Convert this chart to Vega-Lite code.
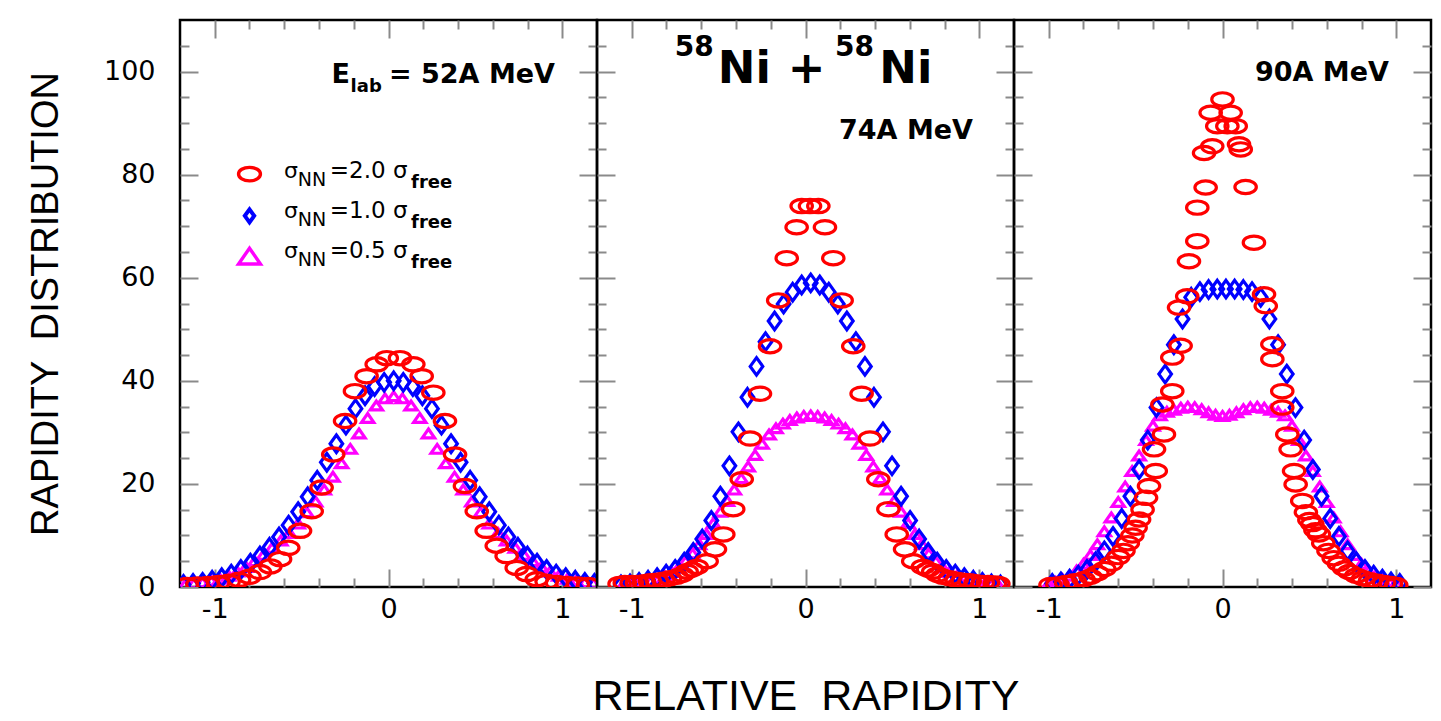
{
  "$schema": "https://vega.github.io/schema/vega-lite/v6.json",
  "background": "white",
  "padding": {"left": 26, "top": 17, "right": 0, "bottom": 0},
  "config": {
    "view": {"stroke": "black", "strokeWidth": 2.5},
    "axis": {"domain": false, "grid": false, "tickColor": "#8a8a8a", "tickWidth": 2, "labelFont": "DejaVu Sans", "labelFontSize": 27, "labelColor": "black", "labelOverlap": false, "labelFlush": false, "titleFont": "Liberation Sans", "titleFontWeight": "normal", "titleColor": "black"}
  },
  "datasets": {
    "pts": [
      {"p":1,"s":"0.5","x":-1.17,"y":0.5},{"p":1,"s":"0.5","x":-1.12,"y":0.7},{"p":1,"s":"0.5","x":-1.07,"y":0.9},{"p":1,"s":"0.5","x":-1.02,"y":1.2},{"p":1,"s":"0.5","x":-0.97,"y":1.6},{"p":1,"s":"0.5","x":-0.92,"y":2.2},{"p":1,"s":"0.5","x":-0.87,"y":3.0},{"p":1,"s":"0.5","x":-0.82,"y":3.9},{"p":1,"s":"0.5","x":-0.77,"y":5.0},{"p":1,"s":"0.5","x":-0.72,"y":6.2},{"p":1,"s":"0.5","x":-0.67,"y":7.6},{"p":1,"s":"0.5","x":-0.62,"y":9.0},{"p":1,"s":"0.5","x":-0.57,"y":10.5},{"p":1,"s":"0.5","x":-0.52,"y":12.3},{"p":1,"s":"0.5","x":-0.47,"y":14.5},{"p":1,"s":"0.5","x":-0.42,"y":16.6},{"p":1,"s":"0.5","x":-0.37,"y":18.9},{"p":1,"s":"0.5","x":-0.32,"y":21.4},{"p":1,"s":"0.5","x":-0.27,"y":24.0},{"p":1,"s":"0.5","x":-0.22,"y":26.8},{"p":1,"s":"0.5","x":-0.17,"y":29.8},{"p":1,"s":"0.5","x":-0.12,"y":32.8},{"p":1,"s":"0.5","x":-0.07,"y":35.2},{"p":1,"s":"0.5","x":-0.02,"y":36.6},{"p":1,"s":"0.5","x":0.03,"y":37.0},{"p":1,"s":"0.5","x":0.08,"y":36.6},{"p":1,"s":"0.5","x":0.13,"y":35.2},{"p":1,"s":"0.5","x":0.18,"y":32.8},{"p":1,"s":"0.5","x":0.23,"y":29.8},{"p":1,"s":"0.5","x":0.28,"y":26.8},{"p":1,"s":"0.5","x":0.33,"y":24.0},{"p":1,"s":"0.5","x":0.38,"y":21.4},{"p":1,"s":"0.5","x":0.43,"y":18.9},{"p":1,"s":"0.5","x":0.48,"y":16.6},{"p":1,"s":"0.5","x":0.53,"y":14.5},{"p":1,"s":"0.5","x":0.58,"y":12.3},{"p":1,"s":"0.5","x":0.63,"y":10.5},{"p":1,"s":"0.5","x":0.68,"y":9.0},{"p":1,"s":"0.5","x":0.73,"y":7.6},{"p":1,"s":"0.5","x":0.78,"y":6.2},{"p":1,"s":"0.5","x":0.83,"y":5.0},{"p":1,"s":"0.5","x":0.88,"y":3.9},{"p":1,"s":"0.5","x":0.93,"y":3.0},{"p":1,"s":"0.5","x":0.98,"y":2.2},{"p":1,"s":"0.5","x":1.03,"y":1.6},{"p":1,"s":"0.5","x":1.08,"y":1.2},{"p":1,"s":"0.5","x":1.13,"y":0.9},{"p":1,"s":"0.5","x":1.18,"y":0.7},
      {"p":1,"s":"1.0","x":-1.18,"y":0.5},{"p":1,"s":"1.0","x":-1.125,"y":0.7},{"p":1,"s":"1.0","x":-1.07,"y":0.9},{"p":1,"s":"1.0","x":-1.015,"y":1.3},{"p":1,"s":"1.0","x":-0.96,"y":1.8},{"p":1,"s":"1.0","x":-0.905,"y":2.5},{"p":1,"s":"1.0","x":-0.85,"y":3.4},{"p":1,"s":"1.0","x":-0.795,"y":4.6},{"p":1,"s":"1.0","x":-0.74,"y":6.0},{"p":1,"s":"1.0","x":-0.685,"y":7.7},{"p":1,"s":"1.0","x":-0.63,"y":9.7},{"p":1,"s":"1.0","x":-0.575,"y":12.0},{"p":1,"s":"1.0","x":-0.52,"y":14.6},{"p":1,"s":"1.0","x":-0.465,"y":17.5},{"p":1,"s":"1.0","x":-0.41,"y":20.7},{"p":1,"s":"1.0","x":-0.355,"y":24.2},{"p":1,"s":"1.0","x":-0.3,"y":27.8},{"p":1,"s":"1.0","x":-0.245,"y":31.4},{"p":1,"s":"1.0","x":-0.19,"y":34.6},{"p":1,"s":"1.0","x":-0.135,"y":37.1},{"p":1,"s":"1.0","x":-0.08,"y":38.9},{"p":1,"s":"1.0","x":-0.025,"y":39.7},{"p":1,"s":"1.0","x":0.03,"y":40.0},{"p":1,"s":"1.0","x":0.085,"y":39.7},{"p":1,"s":"1.0","x":0.14,"y":38.9},{"p":1,"s":"1.0","x":0.195,"y":37.1},{"p":1,"s":"1.0","x":0.25,"y":34.6},{"p":1,"s":"1.0","x":0.305,"y":31.4},{"p":1,"s":"1.0","x":0.36,"y":27.8},{"p":1,"s":"1.0","x":0.415,"y":24.2},{"p":1,"s":"1.0","x":0.47,"y":20.7},{"p":1,"s":"1.0","x":0.525,"y":17.5},{"p":1,"s":"1.0","x":0.58,"y":14.6},{"p":1,"s":"1.0","x":0.635,"y":12.0},{"p":1,"s":"1.0","x":0.69,"y":9.7},{"p":1,"s":"1.0","x":0.745,"y":7.7},{"p":1,"s":"1.0","x":0.8,"y":6.0},{"p":1,"s":"1.0","x":0.855,"y":4.6},{"p":1,"s":"1.0","x":0.91,"y":3.4},{"p":1,"s":"1.0","x":0.965,"y":2.5},{"p":1,"s":"1.0","x":1.02,"y":1.8},{"p":1,"s":"1.0","x":1.075,"y":1.3},{"p":1,"s":"1.0","x":1.13,"y":0.9},{"p":1,"s":"1.0","x":1.185,"y":0.7},
      {"p":1,"s":"2.0","x":-1.16,"y":0.4},{"p":1,"s":"2.0","x":-1.1,"y":0.5},{"p":1,"s":"2.0","x":-1.04,"y":0.6},{"p":1,"s":"2.0","x":-0.98,"y":0.8},{"p":1,"s":"2.0","x":-0.92,"y":1.0},{"p":1,"s":"2.0","x":-0.86,"y":1.4},{"p":1,"s":"2.0","x":-0.8,"y":2.0},{"p":1,"s":"2.0","x":-0.74,"y":2.9},{"p":1,"s":"2.0","x":-0.68,"y":4.0},{"p":1,"s":"2.0","x":-0.624,"y":5.4},{"p":1,"s":"2.0","x":-0.577,"y":7.6},{"p":1,"s":"2.0","x":-0.509,"y":10.9},{"p":1,"s":"2.0","x":-0.442,"y":14.7},{"p":1,"s":"2.0","x":-0.385,"y":19.3},{"p":1,"s":"2.0","x":-0.318,"y":25.7},{"p":1,"s":"2.0","x":-0.25,"y":32.2},{"p":1,"s":"2.0","x":-0.193,"y":38.0},{"p":1,"s":"2.0","x":-0.126,"y":40.9},{"p":1,"s":"2.0","x":-0.068,"y":43.2},{"p":1,"s":"2.0","x":-0.01,"y":44.4},{"p":1,"s":"2.0","x":0.066,"y":44.4},{"p":1,"s":"2.0","x":0.143,"y":43.2},{"p":1,"s":"2.0","x":0.191,"y":40.9},{"p":1,"s":"2.0","x":0.258,"y":37.7},{"p":1,"s":"2.0","x":0.325,"y":32.2},{"p":1,"s":"2.0","x":0.383,"y":25.7},{"p":1,"s":"2.0","x":0.44,"y":19.6},{"p":1,"s":"2.0","x":0.508,"y":14.7},{"p":1,"s":"2.0","x":0.565,"y":10.9},{"p":1,"s":"2.0","x":0.623,"y":8.0},{"p":1,"s":"2.0","x":0.68,"y":6.0},{"p":1,"s":"2.0","x":0.738,"y":3.7},{"p":1,"s":"2.0","x":0.795,"y":2.5},{"p":1,"s":"2.0","x":0.853,"y":1.5},{"p":1,"s":"2.0","x":0.91,"y":1.0},{"p":1,"s":"2.0","x":0.97,"y":0.8},{"p":1,"s":"2.0","x":1.03,"y":0.6},{"p":1,"s":"2.0","x":1.09,"y":0.5},{"p":1,"s":"2.0","x":1.15,"y":0.4},

      {"p":2,"s":"0.5","x":-1.05,"y":0.4},{"p":2,"s":"0.5","x":-1.01,"y":0.5},{"p":2,"s":"0.5","x":-0.97,"y":0.6},{"p":2,"s":"0.5","x":-0.93,"y":0.8},{"p":2,"s":"0.5","x":-0.89,"y":1.1},{"p":2,"s":"0.5","x":-0.85,"y":1.5},{"p":2,"s":"0.5","x":-0.81,"y":2.1},{"p":2,"s":"0.5","x":-0.77,"y":2.9},{"p":2,"s":"0.5","x":-0.73,"y":3.8},{"p":2,"s":"0.5","x":-0.69,"y":5.0},{"p":2,"s":"0.5","x":-0.65,"y":6.5},{"p":2,"s":"0.5","x":-0.61,"y":8.3},{"p":2,"s":"0.5","x":-0.57,"y":10.3},{"p":2,"s":"0.5","x":-0.53,"y":12.4},{"p":2,"s":"0.5","x":-0.49,"y":14.6},{"p":2,"s":"0.5","x":-0.45,"y":16.7},{"p":2,"s":"0.5","x":-0.41,"y":18.9},{"p":2,"s":"0.5","x":-0.37,"y":21.1},{"p":2,"s":"0.5","x":-0.33,"y":23.4},{"p":2,"s":"0.5","x":-0.29,"y":25.6},{"p":2,"s":"0.5","x":-0.25,"y":27.8},{"p":2,"s":"0.5","x":-0.21,"y":29.6},{"p":2,"s":"0.5","x":-0.17,"y":30.8},{"p":2,"s":"0.5","x":-0.13,"y":31.7},{"p":2,"s":"0.5","x":-0.09,"y":32.4},{"p":2,"s":"0.5","x":-0.05,"y":32.9},{"p":2,"s":"0.5","x":-0.01,"y":33.2},{"p":2,"s":"0.5","x":0.03,"y":33.3},{"p":2,"s":"0.5","x":0.07,"y":33.2},{"p":2,"s":"0.5","x":0.11,"y":32.9},{"p":2,"s":"0.5","x":0.15,"y":32.4},{"p":2,"s":"0.5","x":0.19,"y":31.7},{"p":2,"s":"0.5","x":0.23,"y":30.8},{"p":2,"s":"0.5","x":0.27,"y":29.6},{"p":2,"s":"0.5","x":0.31,"y":27.8},{"p":2,"s":"0.5","x":0.35,"y":25.6},{"p":2,"s":"0.5","x":0.39,"y":23.4},{"p":2,"s":"0.5","x":0.43,"y":21.1},{"p":2,"s":"0.5","x":0.47,"y":18.9},{"p":2,"s":"0.5","x":0.51,"y":16.7},{"p":2,"s":"0.5","x":0.55,"y":14.6},{"p":2,"s":"0.5","x":0.59,"y":12.4},{"p":2,"s":"0.5","x":0.63,"y":10.3},{"p":2,"s":"0.5","x":0.67,"y":8.3},{"p":2,"s":"0.5","x":0.71,"y":6.5},{"p":2,"s":"0.5","x":0.75,"y":5.0},{"p":2,"s":"0.5","x":0.79,"y":3.8},{"p":2,"s":"0.5","x":0.83,"y":2.9},{"p":2,"s":"0.5","x":0.87,"y":2.1},{"p":2,"s":"0.5","x":0.91,"y":1.5},{"p":2,"s":"0.5","x":0.95,"y":1.1},{"p":2,"s":"0.5","x":0.99,"y":0.8},{"p":2,"s":"0.5","x":1.03,"y":0.6},{"p":2,"s":"0.5","x":1.07,"y":0.5},{"p":2,"s":"0.5","x":1.11,"y":0.4},
      {"p":2,"s":"1.0","x":-1.062,"y":0.4},{"p":2,"s":"1.0","x":-1.01,"y":0.6},{"p":2,"s":"1.0","x":-0.958,"y":0.9},{"p":2,"s":"1.0","x":-0.906,"y":1.3},{"p":2,"s":"1.0","x":-0.854,"y":1.8},{"p":2,"s":"1.0","x":-0.802,"y":2.5},{"p":2,"s":"1.0","x":-0.75,"y":3.4},{"p":2,"s":"1.0","x":-0.698,"y":4.8},{"p":2,"s":"1.0","x":-0.646,"y":6.7},{"p":2,"s":"1.0","x":-0.594,"y":9.3},{"p":2,"s":"1.0","x":-0.542,"y":12.9},{"p":2,"s":"1.0","x":-0.49,"y":17.6},{"p":2,"s":"1.0","x":-0.438,"y":23.5},{"p":2,"s":"1.0","x":-0.386,"y":30.1},{"p":2,"s":"1.0","x":-0.334,"y":36.8},{"p":2,"s":"1.0","x":-0.282,"y":42.8},{"p":2,"s":"1.0","x":-0.23,"y":47.6},{"p":2,"s":"1.0","x":-0.178,"y":51.6},{"p":2,"s":"1.0","x":-0.126,"y":54.9},{"p":2,"s":"1.0","x":-0.074,"y":57.2},{"p":2,"s":"1.0","x":-0.022,"y":58.6},{"p":2,"s":"1.0","x":0.03,"y":59.0},{"p":2,"s":"1.0","x":0.082,"y":58.6},{"p":2,"s":"1.0","x":0.134,"y":57.2},{"p":2,"s":"1.0","x":0.186,"y":54.9},{"p":2,"s":"1.0","x":0.238,"y":51.6},{"p":2,"s":"1.0","x":0.29,"y":47.6},{"p":2,"s":"1.0","x":0.342,"y":42.8},{"p":2,"s":"1.0","x":0.394,"y":36.8},{"p":2,"s":"1.0","x":0.446,"y":30.1},{"p":2,"s":"1.0","x":0.498,"y":23.5},{"p":2,"s":"1.0","x":0.55,"y":17.6},{"p":2,"s":"1.0","x":0.602,"y":12.9},{"p":2,"s":"1.0","x":0.654,"y":9.3},{"p":2,"s":"1.0","x":0.706,"y":6.7},{"p":2,"s":"1.0","x":0.758,"y":4.8},{"p":2,"s":"1.0","x":0.81,"y":3.4},{"p":2,"s":"1.0","x":0.862,"y":2.5},{"p":2,"s":"1.0","x":0.914,"y":1.8},{"p":2,"s":"1.0","x":0.966,"y":1.3},{"p":2,"s":"1.0","x":1.018,"y":0.9},{"p":2,"s":"1.0","x":1.07,"y":0.6},{"p":2,"s":"1.0","x":1.122,"y":0.4},
      {"p":2,"s":"2.0","x":-1.07,"y":0.6},{"p":2,"s":"2.0","x":-1.04,"y":0.8},{"p":2,"s":"2.0","x":-1.0,"y":0.8},{"p":2,"s":"2.0","x":-0.97,"y":0.8},{"p":2,"s":"2.0","x":-0.93,"y":0.9},{"p":2,"s":"2.0","x":-0.895,"y":1.1},{"p":2,"s":"2.0","x":-0.855,"y":1.2},{"p":2,"s":"2.0","x":-0.818,"y":1.4},{"p":2,"s":"2.0","x":-0.78,"y":1.7},{"p":2,"s":"2.0","x":-0.741,"y":2.0},{"p":2,"s":"2.0","x":-0.71,"y":2.4},{"p":2,"s":"2.0","x":-0.684,"y":3.0},{"p":2,"s":"2.0","x":-0.655,"y":3.4},{"p":2,"s":"2.0","x":-0.626,"y":3.9},{"p":2,"s":"2.0","x":-0.569,"y":5.0},{"p":2,"s":"2.0","x":-0.521,"y":7.3},{"p":2,"s":"2.0","x":-0.473,"y":10.2},{"p":2,"s":"2.0","x":-0.416,"y":15.1},{"p":2,"s":"2.0","x":-0.367,"y":20.9},{"p":2,"s":"2.0","x":-0.319,"y":28.8},{"p":2,"s":"2.0","x":-0.262,"y":37.5},{"p":2,"s":"2.0","x":-0.204,"y":46.7},{"p":2,"s":"2.0","x":-0.157,"y":55.6},{"p":2,"s":"2.0","x":-0.108,"y":63.8},{"p":2,"s":"2.0","x":-0.051,"y":69.8},{"p":2,"s":"2.0","x":-0.022,"y":73.9},{"p":2,"s":"2.0","x":0.026,"y":73.9},{"p":2,"s":"2.0","x":0.074,"y":73.9},{"p":2,"s":"2.0","x":0.112,"y":69.8},{"p":2,"s":"2.0","x":0.16,"y":63.8},{"p":2,"s":"2.0","x":0.208,"y":55.6},{"p":2,"s":"2.0","x":0.275,"y":46.7},{"p":2,"s":"2.0","x":0.323,"y":37.5},{"p":2,"s":"2.0","x":0.371,"y":28.8},{"p":2,"s":"2.0","x":0.419,"y":20.9},{"p":2,"s":"2.0","x":0.477,"y":15.1},{"p":2,"s":"2.0","x":0.525,"y":10.2},{"p":2,"s":"2.0","x":0.573,"y":7.3},{"p":2,"s":"2.0","x":0.62,"y":5.0},{"p":2,"s":"2.0","x":0.676,"y":3.9},{"p":2,"s":"2.0","x":0.705,"y":3.4},{"p":2,"s":"2.0","x":0.735,"y":3.0},{"p":2,"s":"2.0","x":0.76,"y":2.4},{"p":2,"s":"2.0","x":0.79,"y":2.0},{"p":2,"s":"2.0","x":0.83,"y":1.7},{"p":2,"s":"2.0","x":0.87,"y":1.4},{"p":2,"s":"2.0","x":0.905,"y":1.2},{"p":2,"s":"2.0","x":0.945,"y":1.1},{"p":2,"s":"2.0","x":0.98,"y":0.9},{"p":2,"s":"2.0","x":1.02,"y":0.8},{"p":2,"s":"2.0","x":1.05,"y":0.8},{"p":2,"s":"2.0","x":1.09,"y":0.7},{"p":2,"s":"2.0","x":1.11,"y":0.6},

      {"p":3,"s":"0.5","x":-1.0,"y":0.7},{"p":3,"s":"0.5","x":-0.96,"y":1.0},{"p":3,"s":"0.5","x":-0.92,"y":1.5},{"p":3,"s":"0.5","x":-0.88,"y":2.2},{"p":3,"s":"0.5","x":-0.84,"y":3.2},{"p":3,"s":"0.5","x":-0.8,"y":4.5},{"p":3,"s":"0.5","x":-0.76,"y":6.2},{"p":3,"s":"0.5","x":-0.72,"y":8.3},{"p":3,"s":"0.5","x":-0.68,"y":10.8},{"p":3,"s":"0.5","x":-0.64,"y":13.5},{"p":3,"s":"0.5","x":-0.6,"y":16.5},{"p":3,"s":"0.5","x":-0.56,"y":19.5},{"p":3,"s":"0.5","x":-0.52,"y":22.5},{"p":3,"s":"0.5","x":-0.48,"y":25.5},{"p":3,"s":"0.5","x":-0.44,"y":28.5},{"p":3,"s":"0.5","x":-0.4,"y":31.3},{"p":3,"s":"0.5","x":-0.36,"y":33.3},{"p":3,"s":"0.5","x":-0.32,"y":34.0},{"p":3,"s":"0.5","x":-0.28,"y":34.4},{"p":3,"s":"0.5","x":-0.24,"y":34.8},{"p":3,"s":"0.5","x":-0.2,"y":35.0},{"p":3,"s":"0.5","x":-0.16,"y":34.9},{"p":3,"s":"0.5","x":-0.12,"y":34.5},{"p":3,"s":"0.5","x":-0.08,"y":33.9},{"p":3,"s":"0.5","x":-0.04,"y":33.4},{"p":3,"s":"0.5","x":0.0,"y":33.2},{"p":3,"s":"0.5","x":0.04,"y":33.4},{"p":3,"s":"0.5","x":0.08,"y":33.9},{"p":3,"s":"0.5","x":0.12,"y":34.5},{"p":3,"s":"0.5","x":0.16,"y":34.9},{"p":3,"s":"0.5","x":0.2,"y":35.0},{"p":3,"s":"0.5","x":0.24,"y":34.8},{"p":3,"s":"0.5","x":0.28,"y":34.4},{"p":3,"s":"0.5","x":0.32,"y":34.0},{"p":3,"s":"0.5","x":0.36,"y":33.3},{"p":3,"s":"0.5","x":0.4,"y":31.3},{"p":3,"s":"0.5","x":0.44,"y":28.5},{"p":3,"s":"0.5","x":0.48,"y":25.5},{"p":3,"s":"0.5","x":0.52,"y":22.5},{"p":3,"s":"0.5","x":0.56,"y":19.5},{"p":3,"s":"0.5","x":0.6,"y":16.5},{"p":3,"s":"0.5","x":0.64,"y":13.5},{"p":3,"s":"0.5","x":0.68,"y":10.8},{"p":3,"s":"0.5","x":0.72,"y":8.3},{"p":3,"s":"0.5","x":0.76,"y":6.2},{"p":3,"s":"0.5","x":0.8,"y":4.5},{"p":3,"s":"0.5","x":0.84,"y":3.2},{"p":3,"s":"0.5","x":0.88,"y":2.2},{"p":3,"s":"0.5","x":0.92,"y":1.5},{"p":3,"s":"0.5","x":0.96,"y":1.0},{"p":3,"s":"0.5","x":1.0,"y":0.7},
      {"p":3,"s":"1.0","x":-0.98,"y":0.7},{"p":3,"s":"1.0","x":-0.93,"y":1.0},{"p":3,"s":"1.0","x":-0.88,"y":1.5},{"p":3,"s":"1.0","x":-0.83,"y":2.3},{"p":3,"s":"1.0","x":-0.78,"y":3.4},{"p":3,"s":"1.0","x":-0.73,"y":4.9},{"p":3,"s":"1.0","x":-0.68,"y":7.0},{"p":3,"s":"1.0","x":-0.63,"y":9.8},{"p":3,"s":"1.0","x":-0.58,"y":13.3},{"p":3,"s":"1.0","x":-0.53,"y":17.6},{"p":3,"s":"1.0","x":-0.48,"y":22.8},{"p":3,"s":"1.0","x":-0.43,"y":28.5},{"p":3,"s":"1.0","x":-0.38,"y":34.8},{"p":3,"s":"1.0","x":-0.33,"y":41.3},{"p":3,"s":"1.0","x":-0.28,"y":47.0},{"p":3,"s":"1.0","x":-0.23,"y":52.0},{"p":3,"s":"1.0","x":-0.18,"y":56.2},{"p":3,"s":"1.0","x":-0.13,"y":57.3},{"p":3,"s":"1.0","x":-0.08,"y":57.7},{"p":3,"s":"1.0","x":-0.03,"y":57.8},{"p":3,"s":"1.0","x":0.02,"y":57.8},{"p":3,"s":"1.0","x":0.07,"y":57.8},{"p":3,"s":"1.0","x":0.12,"y":57.7},{"p":3,"s":"1.0","x":0.17,"y":57.3},{"p":3,"s":"1.0","x":0.22,"y":56.2},{"p":3,"s":"1.0","x":0.27,"y":52.0},{"p":3,"s":"1.0","x":0.32,"y":47.0},{"p":3,"s":"1.0","x":0.37,"y":41.3},{"p":3,"s":"1.0","x":0.42,"y":34.8},{"p":3,"s":"1.0","x":0.47,"y":28.5},{"p":3,"s":"1.0","x":0.52,"y":22.8},{"p":3,"s":"1.0","x":0.57,"y":17.6},{"p":3,"s":"1.0","x":0.62,"y":13.3},{"p":3,"s":"1.0","x":0.67,"y":9.8},{"p":3,"s":"1.0","x":0.72,"y":7.0},{"p":3,"s":"1.0","x":0.77,"y":4.9},{"p":3,"s":"1.0","x":0.82,"y":3.4},{"p":3,"s":"1.0","x":0.87,"y":2.3},{"p":3,"s":"1.0","x":0.92,"y":1.5},{"p":3,"s":"1.0","x":0.97,"y":1.0},{"p":3,"s":"1.0","x":1.02,"y":0.7},
      {"p":3,"s":"2.0","x":-0.99,"y":0.4},{"p":3,"s":"2.0","x":-0.95,"y":0.5},{"p":3,"s":"2.0","x":-0.9,"y":0.8},{"p":3,"s":"2.0","x":-0.85,"y":1.1},{"p":3,"s":"2.0","x":-0.8,"y":1.5},{"p":3,"s":"2.0","x":-0.76,"y":2.0},{"p":3,"s":"2.0","x":-0.72,"y":2.7},{"p":3,"s":"2.0","x":-0.68,"y":3.5},{"p":3,"s":"2.0","x":-0.64,"y":4.5},{"p":3,"s":"2.0","x":-0.6,"y":5.8},{"p":3,"s":"2.0","x":-0.57,"y":7.0},{"p":3,"s":"2.0","x":-0.545,"y":8.5},{"p":3,"s":"2.0","x":-0.519,"y":10.0},{"p":3,"s":"2.0","x":-0.5,"y":11.5},{"p":3,"s":"2.0","x":-0.48,"y":13.1},{"p":3,"s":"2.0","x":-0.46,"y":15.0},{"p":3,"s":"2.0","x":-0.44,"y":17.3},{"p":3,"s":"2.0","x":-0.423,"y":19.6},{"p":3,"s":"2.0","x":-0.384,"y":22.5},{"p":3,"s":"2.0","x":-0.394,"y":26.7},{"p":3,"s":"2.0","x":-0.337,"y":29.6},{"p":3,"s":"2.0","x":-0.346,"y":35.4},{"p":3,"s":"2.0","x":-0.289,"y":38.0},{"p":3,"s":"2.0","x":-0.289,"y":44.5},{"p":3,"s":"2.0","x":-0.241,"y":46.8},{"p":3,"s":"2.0","x":-0.25,"y":54.2},{"p":3,"s":"2.0","x":-0.203,"y":56.4},{"p":3,"s":"2.0","x":-0.193,"y":63.2},{"p":3,"s":"2.0","x":-0.145,"y":67.1},{"p":3,"s":"2.0","x":-0.145,"y":73.6},{"p":3,"s":"2.0","x":-0.097,"y":77.5},{"p":3,"s":"2.0","x":-0.106,"y":84.2},{"p":3,"s":"2.0","x":-0.059,"y":85.5},{"p":3,"s":"2.0","x":-0.068,"y":92.0},{"p":3,"s":"2.0","x":-0.03,"y":89.4},{"p":3,"s":"2.0","x":0.0,"y":94.6},{"p":3,"s":"2.0","x":0.028,"y":89.4},{"p":3,"s":"2.0","x":0.047,"y":92.0},{"p":3,"s":"2.0","x":0.076,"y":89.4},{"p":3,"s":"2.0","x":0.095,"y":85.9},{"p":3,"s":"2.0","x":0.105,"y":84.9},{"p":3,"s":"2.0","x":0.133,"y":77.6},{"p":3,"s":"2.0","x":0.181,"y":66.8},{"p":3,"s":"2.0","x":0.239,"y":56.8},{"p":3,"s":"2.0","x":0.249,"y":54.5},{"p":3,"s":"2.0","x":0.287,"y":47.1},{"p":3,"s":"2.0","x":0.287,"y":44.2},{"p":3,"s":"2.0","x":0.344,"y":38.0},{"p":3,"s":"2.0","x":0.344,"y":34.8},{"p":3,"s":"2.0","x":0.373,"y":29.6},{"p":3,"s":"2.0","x":0.392,"y":26.7},{"p":3,"s":"2.0","x":0.412,"y":22.5},{"p":3,"s":"2.0","x":0.421,"y":19.9},{"p":3,"s":"2.0","x":0.459,"y":16.7},{"p":3,"s":"2.0","x":0.48,"y":14.5},{"p":3,"s":"2.0","x":0.5,"y":13.0},{"p":3,"s":"2.0","x":0.517,"y":12.2},{"p":3,"s":"2.0","x":0.535,"y":11.0},{"p":3,"s":"2.0","x":0.555,"y":10.2},{"p":3,"s":"2.0","x":0.58,"y":8.5},{"p":3,"s":"2.0","x":0.61,"y":7.0},{"p":3,"s":"2.0","x":0.64,"y":5.6},{"p":3,"s":"2.0","x":0.67,"y":4.5},{"p":3,"s":"2.0","x":0.7,"y":3.6},{"p":3,"s":"2.0","x":0.73,"y":2.9},{"p":3,"s":"2.0","x":0.77,"y":2.2},{"p":3,"s":"2.0","x":0.81,"y":1.7},{"p":3,"s":"2.0","x":0.85,"y":1.3},{"p":3,"s":"2.0","x":0.89,"y":1.0},{"p":3,"s":"2.0","x":0.93,"y":0.8},{"p":3,"s":"2.0","x":0.97,"y":0.6},{"p":3,"s":"2.0","x":1.0,"y":0.4}
    ]
  },
  "spacing": 0,
  "bounds": "flush",
  "hconcat": [
    {
      "width": 417, "height": 567,
      "resolve": {"axis": {"x": "independent", "y": "independent"}},
      "layer": [
        {
          "data": {"name": "pts"},
          "transform": [{"filter": "datum.p == 1"}],
          "mark": {"type": "point", "filled": false, "strokeWidth": 3.2, "opacity": 1, "clip": true},
          "encoding": {
            "x": {"field": "x", "type": "quantitative", "scale": {"domain": [-1.2, 1.2], "nice": false, "zero": false},
              "axis": {"orient": "bottom", "values": [-1, -0.8, -0.6, -0.4, -0.2, 0, 0.2, 0.4, 0.6, 0.8, 1], "tickSize": {"condition": {"test": "abs(datum.value) < 0.01 || abs(abs(datum.value) - 1) < 0.01", "value": -18}, "value": -9}, "labelExpr": "abs(datum.value) < 0.01 ? '0' : datum.value < -0.99 ? '-1' : datum.value > 0.99 ? '1' : ''", "labelPadding": 27, "title": null}},
            "y": {"field": "y", "type": "quantitative", "scale": {"domain": [0, 110], "nice": false, "zero": false},
              "axis": {"orient": "left", "values": [0, 5, 10, 15, 20, 25, 30, 35, 40, 45, 50, 55, 60, 65, 70, 75, 80, 85, 90, 95, 100, 105], "tickSize": {"condition": {"test": "datum.value % 20 === 0", "value": -18}, "value": -9}, "labelExpr": "datum.value % 20 === 0 ? datum.label : ''", "labelPadding": 43, "title": "RAPIDITY \u00a0DISTRIBUTION", "titleFontSize": 38, "titlePadding": 38}},
            "shape": {"field": "s", "type": "nominal", "scale": {"domain": ["2.0", "1.0", "0.5"], "range": ["M -1 0 A 1 0.62 0 1 0 1 0 A 1 0.62 0 1 0 -1 0 Z", "M 0 -1 L 0.72 0 L 0 1 L -0.72 0 Z", "M 0 -0.72 L 1 0.72 L -1 0.72 Z"]}, "legend": null},
            "color": {"field": "s", "type": "nominal", "scale": {"domain": ["2.0", "1.0", "0.5"], "range": ["#ff0000", "#0000ff", "#ff00ff"]}, "legend": null},
            "size": {"field": "s", "type": "ordinal", "scale": {"domain": ["2.0", "1.0", "0.5"], "range": [460, 150, 300]}, "legend": null}
          }
        },
        {
          "data": {"values": [{}]},
          "mark": {"type": "point", "opacity": 0},
          "encoding": {
            "x": {"datum": 0, "type": "quantitative", "scale": {"domain": [-1.2, 1.2], "nice": false, "zero": false},
              "axis": {"orient": "top", "values": [-1, -0.8, -0.6, -0.4, -0.2, 0, 0.2, 0.4, 0.6, 0.8, 1], "tickSize": {"condition": {"test": "abs(datum.value) < 0.01 || abs(abs(datum.value) - 1) < 0.01", "value": -18}, "value": -9}, "labels": false, "title": null}},
            "y": {"datum": 0, "type": "quantitative", "scale": {"domain": [0, 110], "nice": false, "zero": false},
              "axis": {"orient": "right", "values": [0, 5, 10, 15, 20, 25, 30, 35, 40, 45, 50, 55, 60, 65, 70, 75, 80, 85, 90, 95, 100, 105], "tickSize": {"condition": {"test": "datum.value % 20 === 0", "value": -18}, "value": -9}, "labels": false, "title": null}}
          }
        },
        {"data": {"values": [{}]}, "mark": {"type": "text", "text": "E", "font": "DejaVu Sans", "fontWeight": "bold", "fontSize": 27, "align": "right", "baseline": "alphabetic", "color": "black"},
          "encoding": {"x": {"datum": -0.222, "type": "quantitative", "axis": null}, "y": {"datum": 97.8, "type": "quantitative", "axis": null}}},
        {"data": {"values": [{}]}, "mark": {"type": "text", "text": "lab", "font": "DejaVu Sans", "fontWeight": "bold", "fontSize": 18, "align": "left", "baseline": "alphabetic", "color": "black"},
          "encoding": {"x": {"datum": -0.218, "type": "quantitative", "axis": null}, "y": {"datum": 96.1, "type": "quantitative", "axis": null}}},
        {"data": {"values": [{}]}, "mark": {"type": "text", "text": "= 52A MeV", "font": "DejaVu Sans", "fontWeight": "bold", "fontSize": 27, "align": "right", "baseline": "alphabetic", "color": "black"},
          "encoding": {"x": {"datum": 0.958, "type": "quantitative", "axis": null}, "y": {"datum": 97.8, "type": "quantitative", "axis": null}}},
        {"data": {"values": [{}]}, "mark": {"type": "point", "shape": "M -1 0 A 1 0.62 0 1 0 1 0 A 1 0.62 0 1 0 -1 0 Z", "size": 480, "filled": false, "strokeWidth": 3.4, "color": "#ff0000", "opacity": 1},
          "encoding": {"x": {"datum": -0.8, "type": "quantitative", "axis": null}, "y": {"datum": 80.1, "type": "quantitative", "axis": null}}},
        {"data": {"values": [{}]}, "mark": {"type": "point", "shape": "M 0 -1 L 0.72 0 L 0 1 L -0.72 0 Z", "size": 170, "filled": false, "strokeWidth": 4, "color": "#0000ff", "opacity": 1},
          "encoding": {"x": {"datum": -0.8, "type": "quantitative", "axis": null}, "y": {"datum": 72.0, "type": "quantitative", "axis": null}}},
        {"data": {"values": [{}]}, "mark": {"type": "point", "shape": "M 0 -0.72 L 1 0.72 L -1 0.72 Z", "size": 480, "filled": false, "strokeWidth": 3.4, "color": "#ff00ff", "opacity": 1},
          "encoding": {"x": {"datum": -0.8, "type": "quantitative", "axis": null}, "y": {"datum": 64.2, "type": "quantitative", "axis": null}}},
        {"data": {"values": [{}]}, "mark": {"type": "text", "text": ["σ", "σ", "σ"], "lineHeight": 40, "font": "DejaVu Sans", "fontSize": 22, "align": "left", "baseline": "alphabetic", "color": "black"},
          "encoding": {"x": {"datum": -0.601, "type": "quantitative", "axis": null}, "y": {"datum": 79.3, "type": "quantitative", "axis": null}}},
        {"data": {"values": [{}]}, "mark": {"type": "text", "text": ["NN", "NN", "NN"], "lineHeight": 40, "font": "DejaVu Sans", "fontSize": 19, "align": "left", "baseline": "alphabetic", "color": "black"},
          "encoding": {"x": {"datum": -0.522, "type": "quantitative", "axis": null}, "y": {"datum": 77.8, "type": "quantitative", "axis": null}}},
        {"data": {"values": [{}]}, "mark": {"type": "text", "text": ["=2.0 σ", "=1.0 σ", "=0.5 σ"], "lineHeight": 40, "font": "DejaVu Sans", "fontSize": 23, "align": "left", "baseline": "alphabetic", "color": "black"},
          "encoding": {"x": {"datum": -0.338, "type": "quantitative", "axis": null}, "y": {"datum": 79.3, "type": "quantitative", "axis": null}}},
        {"data": {"values": [{}]}, "mark": {"type": "text", "text": ["free", "free", "free"], "lineHeight": 40, "font": "DejaVu Sans", "fontWeight": "bold", "fontSize": 18, "align": "left", "baseline": "alphabetic", "color": "black"},
          "encoding": {"x": {"datum": 0.13, "type": "quantitative", "axis": null}, "y": {"datum": 77.4, "type": "quantitative", "axis": null}}}
      ]
    },
    {
      "width": 417, "height": 567,
      "resolve": {"axis": {"x": "independent", "y": "independent"}},
      "layer": [
        {
          "data": {"name": "pts"},
          "transform": [{"filter": "datum.p == 2"}],
          "mark": {"type": "point", "filled": false, "strokeWidth": 3.2, "opacity": 1, "clip": true},
          "encoding": {
            "x": {"field": "x", "type": "quantitative", "scale": {"domain": [-1.2, 1.2], "nice": false, "zero": false},
              "axis": {"orient": "bottom", "values": [-1, -0.8, -0.6, -0.4, -0.2, 0, 0.2, 0.4, 0.6, 0.8, 1], "tickSize": {"condition": {"test": "abs(datum.value) < 0.01 || abs(abs(datum.value) - 1) < 0.01", "value": -18}, "value": -9}, "labelExpr": "abs(datum.value) < 0.01 ? '0' : datum.value < -0.99 ? '-1' : datum.value > 0.99 ? '1' : ''", "labelPadding": 27, "title": "RELATIVE \u00a0RAPIDITY", "titleFontSize": 43, "titlePadding": 44}},
            "y": {"field": "y", "type": "quantitative", "scale": {"domain": [0, 110], "nice": false, "zero": false},
              "axis": {"orient": "left", "values": [0, 5, 10, 15, 20, 25, 30, 35, 40, 45, 50, 55, 60, 65, 70, 75, 80, 85, 90, 95, 100, 105], "tickSize": {"condition": {"test": "datum.value % 20 === 0", "value": -18}, "value": -9}, "labels": false, "title": null}},
            "shape": {"field": "s", "type": "nominal", "scale": {"domain": ["2.0", "1.0", "0.5"], "range": ["M -1 0 A 1 0.62 0 1 0 1 0 A 1 0.62 0 1 0 -1 0 Z", "M 0 -1 L 0.72 0 L 0 1 L -0.72 0 Z", "M 0 -0.72 L 1 0.72 L -1 0.72 Z"]}, "legend": null},
            "color": {"field": "s", "type": "nominal", "scale": {"domain": ["2.0", "1.0", "0.5"], "range": ["#ff0000", "#0000ff", "#ff00ff"]}, "legend": null},
            "size": {"field": "s", "type": "ordinal", "scale": {"domain": ["2.0", "1.0", "0.5"], "range": [460, 150, 300]}, "legend": null}
          }
        },
        {
          "data": {"values": [{}]},
          "mark": {"type": "point", "opacity": 0},
          "encoding": {
            "x": {"datum": 0, "type": "quantitative", "scale": {"domain": [-1.2, 1.2], "nice": false, "zero": false},
              "axis": {"orient": "top", "values": [-1, -0.8, -0.6, -0.4, -0.2, 0, 0.2, 0.4, 0.6, 0.8, 1], "tickSize": {"condition": {"test": "abs(datum.value) < 0.01 || abs(abs(datum.value) - 1) < 0.01", "value": -18}, "value": -9}, "labels": false, "title": null}},
            "y": {"datum": 0, "type": "quantitative", "scale": {"domain": [0, 110], "nice": false, "zero": false},
              "axis": {"orient": "right", "values": [0, 5, 10, 15, 20, 25, 30, 35, 40, 45, 50, 55, 60, 65, 70, 75, 80, 85, 90, 95, 100, 105], "tickSize": {"condition": {"test": "datum.value % 20 === 0", "value": -18}, "value": -9}, "labels": false, "title": null}}
          }
        },
        {"data": {"values": [{}]}, "mark": {"type": "text", "text": "58", "font": "DejaVu Sans", "fontWeight": "bold", "fontSize": 28, "align": "left", "baseline": "alphabetic", "color": "black"},
          "encoding": {"x": {"datum": -0.752, "type": "quantitative", "axis": null}, "y": {"datum": 103.0, "type": "quantitative", "axis": null}}},
        {"data": {"values": [{}]}, "mark": {"type": "text", "text": "Ni", "font": "DejaVu Sans", "fontWeight": "bold", "fontSize": 45, "align": "left", "baseline": "alphabetic", "color": "black"},
          "encoding": {"x": {"datum": -0.505, "type": "quantitative", "axis": null}, "y": {"datum": 97.8, "type": "quantitative", "axis": null}}},
        {"data": {"values": [{}]}, "mark": {"type": "text", "text": "+", "font": "DejaVu Sans", "fontWeight": "bold", "fontSize": 45, "align": "center", "baseline": "alphabetic", "color": "black"},
          "encoding": {"x": {"datum": 0.006, "type": "quantitative", "axis": null}, "y": {"datum": 97.8, "type": "quantitative", "axis": null}}},
        {"data": {"values": [{}]}, "mark": {"type": "text", "text": "58", "font": "DejaVu Sans", "fontWeight": "bold", "fontSize": 28, "align": "left", "baseline": "alphabetic", "color": "black"},
          "encoding": {"x": {"datum": 0.17, "type": "quantitative", "axis": null}, "y": {"datum": 103.0, "type": "quantitative", "axis": null}}},
        {"data": {"values": [{}]}, "mark": {"type": "text", "text": "Ni", "font": "DejaVu Sans", "fontWeight": "bold", "fontSize": 45, "align": "left", "baseline": "alphabetic", "color": "black"},
          "encoding": {"x": {"datum": 0.425, "type": "quantitative", "axis": null}, "y": {"datum": 97.8, "type": "quantitative", "axis": null}}},
        {"data": {"values": [{}]}, "mark": {"type": "text", "text": "74A MeV", "font": "DejaVu Sans", "fontWeight": "bold", "fontSize": 27, "align": "right", "baseline": "alphabetic", "color": "black"},
          "encoding": {"x": {"datum": 0.964, "type": "quantitative", "axis": null}, "y": {"datum": 86.9, "type": "quantitative", "axis": null}}}
      ]
    },
    {
      "width": 417, "height": 567,
      "resolve": {"axis": {"x": "independent", "y": "independent"}},
      "layer": [
        {
          "data": {"name": "pts"},
          "transform": [{"filter": "datum.p == 3"}],
          "mark": {"type": "point", "filled": false, "strokeWidth": 3.2, "opacity": 1, "clip": true},
          "encoding": {
            "x": {"field": "x", "type": "quantitative", "scale": {"domain": [-1.2, 1.2], "nice": false, "zero": false},
              "axis": {"orient": "bottom", "values": [-1, -0.8, -0.6, -0.4, -0.2, 0, 0.2, 0.4, 0.6, 0.8, 1], "tickSize": {"condition": {"test": "abs(datum.value) < 0.01 || abs(abs(datum.value) - 1) < 0.01", "value": -18}, "value": -9}, "labelExpr": "abs(datum.value) < 0.01 ? '0' : datum.value < -0.99 ? '-1' : datum.value > 0.99 ? '1' : ''", "labelPadding": 27, "title": null}},
            "y": {"field": "y", "type": "quantitative", "scale": {"domain": [0, 110], "nice": false, "zero": false},
              "axis": {"orient": "left", "values": [0, 5, 10, 15, 20, 25, 30, 35, 40, 45, 50, 55, 60, 65, 70, 75, 80, 85, 90, 95, 100, 105], "tickSize": {"condition": {"test": "datum.value % 20 === 0", "value": -18}, "value": -9}, "labels": false, "title": null}},
            "shape": {"field": "s", "type": "nominal", "scale": {"domain": ["2.0", "1.0", "0.5"], "range": ["M -1 0 A 1 0.62 0 1 0 1 0 A 1 0.62 0 1 0 -1 0 Z", "M 0 -1 L 0.72 0 L 0 1 L -0.72 0 Z", "M 0 -0.72 L 1 0.72 L -1 0.72 Z"]}, "legend": null},
            "color": {"field": "s", "type": "nominal", "scale": {"domain": ["2.0", "1.0", "0.5"], "range": ["#ff0000", "#0000ff", "#ff00ff"]}, "legend": null},
            "size": {"field": "s", "type": "ordinal", "scale": {"domain": ["2.0", "1.0", "0.5"], "range": [460, 150, 300]}, "legend": null}
          }
        },
        {
          "data": {"values": [{}]},
          "mark": {"type": "point", "opacity": 0},
          "encoding": {
            "x": {"datum": 0, "type": "quantitative", "scale": {"domain": [-1.2, 1.2], "nice": false, "zero": false},
              "axis": {"orient": "top", "values": [-1, -0.8, -0.6, -0.4, -0.2, 0, 0.2, 0.4, 0.6, 0.8, 1], "tickSize": {"condition": {"test": "abs(datum.value) < 0.01 || abs(abs(datum.value) - 1) < 0.01", "value": -18}, "value": -9}, "labels": false, "title": null}},
            "y": {"datum": 0, "type": "quantitative", "scale": {"domain": [0, 110], "nice": false, "zero": false},
              "axis": {"orient": "right", "values": [0, 5, 10, 15, 20, 25, 30, 35, 40, 45, 50, 55, 60, 65, 70, 75, 80, 85, 90, 95, 100, 105], "tickSize": {"condition": {"test": "datum.value % 20 === 0", "value": -18}, "value": -9}, "labels": false, "title": null}}
          }
        },
        {"data": {"values": [{}]}, "mark": {"type": "text", "text": "90A MeV", "font": "DejaVu Sans", "fontWeight": "bold", "fontSize": 27, "align": "right", "baseline": "alphabetic", "color": "black"},
          "encoding": {"x": {"datum": 0.958, "type": "quantitative", "axis": null}, "y": {"datum": 98.2, "type": "quantitative", "axis": null}}}
      ]
    }
  ]
}
